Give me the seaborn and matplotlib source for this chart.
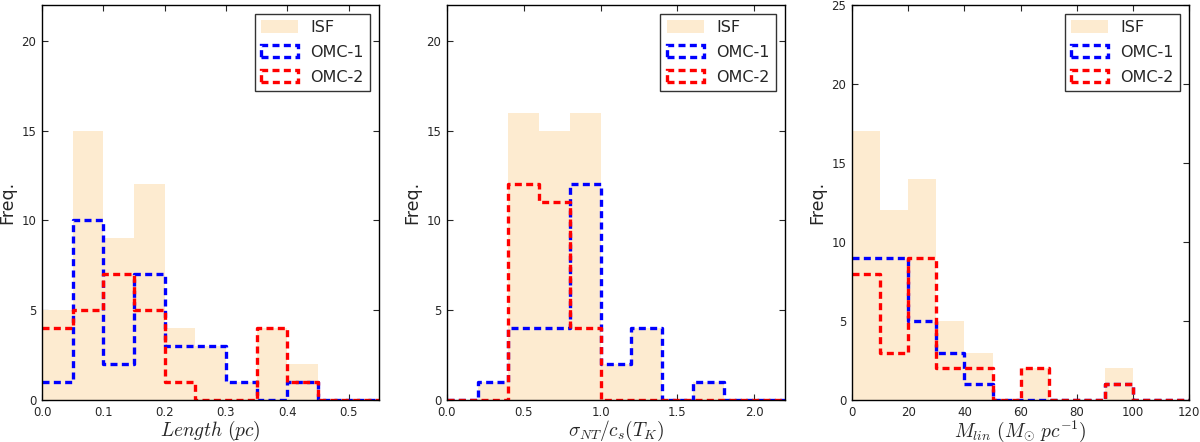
import numpy as np
import pandas as pd
import matplotlib
matplotlib.use("Agg")
import matplotlib.pyplot as plt
from matplotlib.patches import Patch
import seaborn as sns

# ---- data (counts per bin) ----
len_edges = [0.0, 0.05, 0.10, 0.15, 0.20, 0.25, 0.30, 0.35, 0.40, 0.45, 0.50, 0.55]
len_isf = [5, 15, 9, 12, 4, 3, 1, 4, 2, 0, 0]
len_omc1 = [1, 10, 2, 7, 3, 3, 1, 0, 1, 0, 0]
len_omc2 = [4, 5, 7, 5, 1, 0, 0, 4, 1, 0, 0]

sig_edges = [0.0, 0.2, 0.4, 0.6, 0.8, 1.0, 1.2, 1.4, 1.6, 1.8, 2.0, 2.2]
sig_isf = [0, 1, 16, 15, 16, 2, 4, 0, 1, 0, 0]
sig_omc1 = [0, 1, 4, 4, 12, 2, 4, 0, 1, 0, 0]
sig_omc2 = [0, 0, 12, 11, 4, 0, 0, 0, 0, 0, 0]

mlin_edges = [0, 10, 20, 30, 40, 50, 60, 70, 80, 90, 100, 110, 120]
mlin_isf = [17, 12, 14, 5, 3, 0, 2, 0, 0, 2, 0, 0]
mlin_omc1 = [9, 9, 5, 3, 1, 0, 0, 0, 0, 1, 0, 0]
mlin_omc2 = [8, 3, 9, 2, 2, 0, 2, 0, 0, 1, 0, 0]

labels = ["ISF", "OMC-1", "OMC-2"]
xlabels = [r"$Length\ (pc)$", r"$\sigma_{NT}/c_s(T_K)$", r"$M_{lin}\ (M_{\odot}\ pc^{-1})$"]

sns.set_style("ticks")
plt.rcParams.update({
    "font.family": ["DejaVu Sans"],
    "mathtext.fontset": "cm",
    "xtick.direction": "in",
    "ytick.direction": "in",
    "xtick.top": True,
    "ytick.right": True,
    "xtick.major.size": 4,
    "ytick.major.size": 4,
    "xtick.major.pad": 4,
    "ytick.major.pad": 4,
    "xtick.labelsize": 8.5,
    "ytick.labelsize": 8.5,
    "axes.linewidth": 1.0,
    "axes.edgecolor": "black",
})

ISF_COLOR = "#FDEBD0"
LW = 2.4
DASH = (2.1, 1.3)

fig = plt.figure(figsize=(12, 4.42), dpi=100)
positions = [
    [0.035, 0.095, 0.281, 0.894],
    [0.3725, 0.095, 0.2817, 0.894],
    [0.710, 0.095, 0.281, 0.894],
]

panels = [
    (len_edges, len_isf, len_omc1, len_omc2, (0, 0.55), np.arange(0, 0.51, 0.1), (0, 22), [0, 5, 10, 15, 20], "%.1f"),
    (sig_edges, sig_isf, sig_omc1, sig_omc2, (0, 2.2), np.arange(0, 2.01, 0.5), (0, 22), [0, 5, 10, 15, 20], "%.1f"),
    (mlin_edges, mlin_isf, mlin_omc1, mlin_omc2, (0, 120), np.arange(0, 121, 20), (0, 25), [0, 5, 10, 15, 20, 25], "%d"),
]

for i, (edges, isf, omc1, omc2, xlim, xt, ylim, yt, fmt) in enumerate(panels):
    ax = fig.add_axes(positions[i])
    e = np.asarray(edges, dtype=float)
    centers = (e[:-1] + e[1:]) / 2
    bins = [float(v) for v in edges]
    df = pd.DataFrame({"x": centers, "isf": isf, "omc1": omc1, "omc2": omc2})
    sns.histplot(data=df, x="x", weights="isf", bins=bins, element="step",
                 fill=True, color=ISF_COLOR, alpha=1, linewidth=0, ax=ax)
    sns.histplot(data=df, x="x", weights="omc1", bins=bins, element="step",
                 fill=False, color="blue", linewidth=LW, linestyle=(0, DASH), ax=ax)
    sns.histplot(data=df, x="x", weights="omc2", bins=bins, element="step",
                 fill=False, color="red", linewidth=LW, linestyle=(0, DASH), ax=ax)
    ax.set_xlim(*xlim)
    ax.set_ylim(*ylim)
    ax.set_xticks(xt)
    ax.set_yticks(yt)
    ax.xaxis.set_major_formatter(matplotlib.ticker.FormatStrFormatter(fmt))
    ax.set_xlabel(xlabels[i], fontsize=14, labelpad=0)
    ax.set_ylabel("Freq.", fontsize=12.5, labelpad=4)
    for s in ax.spines.values():
        s.set_visible(True)
        s.set_zorder(3)
    handles = [
        Patch(facecolor=ISF_COLOR, edgecolor="none"),
        Patch(facecolor="none", edgecolor="blue", linewidth=LW, linestyle=(0, DASH)),
        Patch(facecolor="none", edgecolor="red", linewidth=LW, linestyle=(0, DASH)),
    ]
    leg = ax.legend(handles, labels, loc="upper right", fontsize=11.5, frameon=True,
                    fancybox=False, borderaxespad=0.55, handlelength=2.3, handleheight=0.8,
                    labelspacing=0.62, borderpad=0.4, handletextpad=0.8)
    leg.get_frame().set_edgecolor("black")
    leg.get_frame().set_linewidth(1.0)

fig.savefig("out.png", dpi=100)
